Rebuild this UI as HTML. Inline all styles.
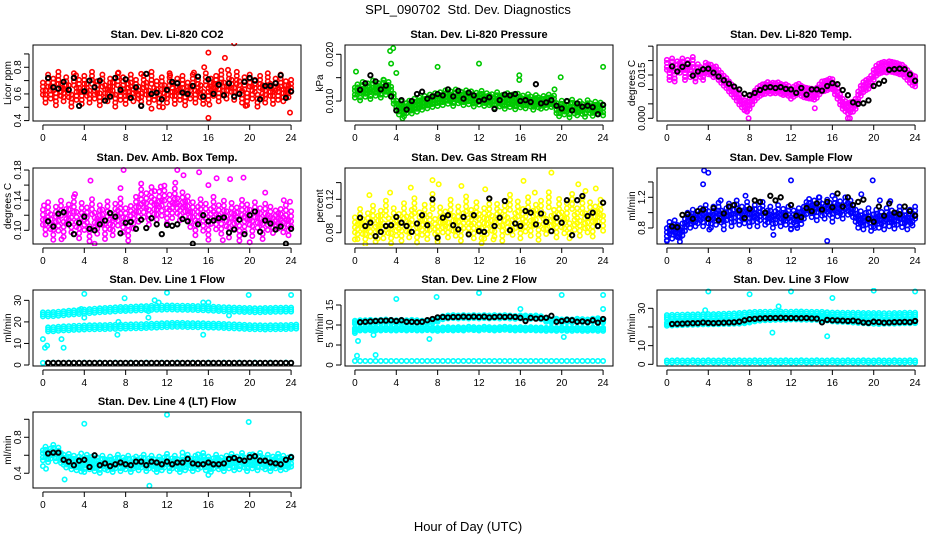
<!DOCTYPE html>
<html><head><meta charset="utf-8"><style>
html,body{margin:0;padding:0;background:#fff;}
svg{display:block;font-family:"Liberation Sans",sans-serif;}
</style></head><body>
<svg id="chart" width="936" height="540" viewBox="0 0 936 540" xmlns="http://www.w3.org/2000/svg">
<rect width="936" height="540" fill="#fff"/>
<text x="468" y="14" font-size="13" text-anchor="middle" style="white-space:pre">SPL_090702  Std. Dev. Diagnostics</text>
<text x="468" y="531" font-size="13" text-anchor="middle">Hour of Day (UTC)</text>
<g id="plots"></g>
</svg>
<script>
// ---------- data (cloud series sampled every 0.25 h; band series every 0.5 h; black series at 0.5 h from 0.5) ----------
const xTicks = [0,4,8,12,16,20,24];
const co2Cloud = [0.64,0.58,0.70,0.61,0.67,0.56,0.72,0.63,0.59,0.68,0.62,0.55,0.71,0.60,0.66,0.57,0.69,0.63,0.58,0.72,
0.61,0.65,0.56,0.70,0.62,0.59,0.67,0.64,0.55,0.71,0.60,0.68,0.57,0.63,0.70,0.59,0.66,0.61,0.56,0.69,
0.64,0.58,0.72,0.60,0.65,0.55,0.68,0.62,0.58,0.71,0.63,0.57,0.67,0.60,0.69,0.56,0.64,0.61,0.70,0.58,
0.66,0.62,0.57,0.71,0.60,0.67,0.63,0.69,0.59,0.73,0.64,0.61,0.70,0.66,0.60,0.72,0.65,0.58,0.68,0.56,
0.70,0.61,0.66,0.55,0.69,0.62,0.58,0.71,0.63,0.57,0.67,0.60,0.70,0.59,0.65,0.62,0.66];
const co2Black = [0.72,0.65,0.64,0.69,0.63,0.72,0.51,0.62,0.70,0.65,0.70,0.55,0.58,0.72,0.63,0.71,0.57,0.65,0.51,0.75,
0.60,0.61,0.56,0.63,0.69,0.68,0.61,0.60,0.66,0.73,0.58,0.71,0.60,0.67,0.59,0.68,0.58,0.60,0.69,0.72,
0.70,0.56,0.66,0.66,0.68,0.74,0.57,0.62];
const co2OutHours = [16,16,18.5,17.6,15.6,10.5,11.6,23.9,12.3,14.6,17.9,9.5,3.2,7.3,16.1,19.6];
const co2OutValues = [0.91,0.42,0.98,0.87,0.80,0.49,0.50,0.46,0.74,0.76,0.78,0.75,0.74,0.76,0.52,0.51];

const presCloud = [0.0118,0.0125,0.0112,0.0130,0.0120,0.0127,0.0115,0.0133,0.0122,0.0128,0.0118,0.0135,0.0124,0.0130,0.0120,
0.0105,0.0090,0.0082,0.0088,0.0078,0.0085,
0.0090,0.0084,0.0094,0.0088,0.0097,0.0092,0.0100,0.0095,0.0103,0.0098,0.0106,0.0100,
0.0108,0.0102,0.0112,0.0105,0.0110,0.0100,0.0114,0.0106,0.0109,0.0102,0.0112,0.0104,0.0110,0.0099,0.0107,0.0103,0.0111,0.0100,0.0106,0.0102,
0.0104,0.0096,0.0108,0.0099,0.0102,0.0094,0.0106,0.0098,0.0103,0.0093,0.0105,0.0097,0.0101,0.0095,0.0104,0.0099,0.0092,0.0102,0.0097,0.0094,0.0100,0.0096,0.0103,0.0098,0.0101,
0.0085,0.0078,0.0090,0.0082,0.0088,0.0076,0.0092,0.0084,0.0080,0.0089,0.0083,0.0077,0.0091,0.0085,0.0079,0.0088,0.0082,0.0086,0.0080];
const presBlack = [0.0124,0.0138,0.0155,0.0142,0.0125,0.0133,0.0110,0.0080,0.0102,0.0082,0.0100,0.0115,0.0120,0.0105,0.0110,0.0115,0.0112,0.0125,0.0110,0.0122,
0.0105,0.0118,0.0112,0.0100,0.0103,0.0108,0.0083,0.0102,0.0114,0.0112,0.0115,0.0100,0.0102,0.0098,0.0136,0.0095,0.0097,0.0102,0.0090,0.0084,
0.0100,0.0080,0.0095,0.0088,0.0090,0.0087,0.0072,0.0092];
const presOutHours = [3.4,3.7,3.5,4,0.1,8,12,15.9,15.9,19.9,19.3,24,4.6,2.8];
const presOutValues = [0.0207,0.0213,0.0180,0.0160,0.0163,0.0173,0.0180,0.0155,0.0145,0.0151,0.0125,0.0173,0.0063,0.0145];

const tempCloud = [0.0185,0.0150,0.0190,0.0145,0.0180,
0.0175,0.0190,0.0150,0.0185,0.0160,0.0195,0.0145,0.0170,
0.0160,0.0150,0.0175,0.0170,
0.0168,0.0160,0.0162,0.0150,0.0140,0.0130,0.0122,0.0110,0.0100,0.0090,0.0078,0.0065,0.0055,0.0045,
0.0040,0.0050,0.0065,0.0078,0.0088,0.0095,0.0100,0.0102,
0.0108,0.0103,0.0106,0.0104,0.0107,0.0102,0.0098,0.0100,0.0095,
0.0085,0.0092,0.0098,0.0102,0.0095,
0.0090,0.0088,0.0086,0.0085,0.0082,0.0088,0.0100,0.0110,
0.0112,0.0115,0.0120,0.0118,0.0100,0.0085,
0.0065,0.0050,0.0042,0.0035,0.0038,0.0040,0.0050,
0.0075,0.0095,0.0108,0.0115,0.0120,0.0130,0.0150,0.0165,
0.0172,0.0175,0.0178,0.0176,0.0180,0.0178,0.0176,0.0174,0.0170,0.0168,0.0160,
0.0150,0.0140,0.0132,0.0128];
const tempBlack = [0.0180,0.0162,0.0178,0.0188,0.0148,0.0162,0.0170,0.0172,0.0158,0.0145,0.0132,0.0120,0.0110,0.0100,0.0085,0.0080,0.0088,0.0098,0.0106,0.0108,
0.0105,0.0108,0.0102,0.0100,0.0088,0.0105,0.0082,0.0100,0.0100,0.0096,0.0112,0.0122,0.0118,0.0098,0.0080,0.0055,0.0050,0.0052,0.0062,0.0112,
0.0120,0.0130,0.0168,0.0170,0.0172,0.0170,0.0152,0.0130];
const tempOutHours = [7.7,14.3,17.5,17.7,7.9];
const tempOutValues = [0.0025,0.0035,0.0000,0.0000,0.0000];

const boxCloud = [0.118,0.105,0.128,0.112,0.098,0.122,0.110,0.130,0.102,0.119,0.125,0.108,0.135,0.115,0.100,0.127,0.111,0.121,0.096,0.132,
0.114,0.106,0.124,0.118,0.099,0.129,0.112,0.104,0.126,0.117,0.133,0.108,0.120,0.097,0.123,0.113,
0.135,0.122,0.145,0.128,0.140,0.118,0.148,0.132,0.125,0.142,0.130,0.150,0.120,0.138,0.127,0.146,0.133,0.124,0.141,0.129,0.136,
0.115,0.128,0.104,0.122,0.132,0.110,0.126,0.098,0.119,0.135,0.112,0.124,0.106,0.130,0.116,0.101,0.127,0.113,0.121,0.097,0.131,0.109,0.125,0.118,0.103,0.128,0.114,0.120,0.099,0.126,0.111,0.122,0.107,0.117,0.113,0.119,0.108,0.124,0.104,0.116];
const boxBlack = [0.112,0.105,0.122,0.124,0.108,0.095,0.110,0.118,0.102,0.100,0.108,0.113,0.123,0.118,0.096,0.110,0.111,0.102,0.114,0.103,
0.116,0.108,0.095,0.107,0.106,0.108,0.115,0.112,0.082,0.108,0.120,0.112,0.113,0.116,0.117,0.097,0.101,0.114,0.095,0.120,
0.125,0.098,0.113,0.109,0.101,0.105,0.082,0.102];
const boxOutHours = [4.6,7.5,7.8,9.5,10.8,13.0,13.6,15.1,16.8,18.1,19.4,21.5,23.3,5.0,1.8,20.0,17.4,3.1,11.4,12.8,16,23.9,0.1];
const boxOutValues = [0.166,0.156,0.180,0.162,0.152,0.180,0.173,0.177,0.169,0.168,0.170,0.150,0.140,0.082,0.088,0.084,0.087,0.148,0.158,0.163,0.160,0.138,0.133];

const rhCloud = [0.090,0.082,0.100,0.088,0.076,0.095,0.085,0.104,0.079,0.092,0.098,0.083,0.110,0.089,0.077,0.101,0.086,0.094,0.080,0.107,
0.091,0.084,0.099,0.113,0.078,0.096,0.087,0.105,0.082,0.093,0.118,0.088,0.079,0.102,0.090,0.097,0.084,0.111,0.092,0.086,
0.103,0.080,0.095,0.115,0.089,0.099,0.083,0.108,0.094,0.077,0.101,0.088,0.112,0.092,0.085,0.106,0.097,0.080,0.104,0.090,
0.117,0.087,0.095,0.109,0.083,0.100,0.091,0.114,0.086,0.098,0.105,0.081,0.110,0.094,0.088,0.120,0.092,0.099,0.084,0.112,
0.096,0.089,0.107,0.083,0.118,0.093,0.101,0.086,0.113,0.095,0.090,0.108,0.085,0.103,0.097,0.111,0.092];
const rhBlack = [0.098,0.088,0.092,0.076,0.081,0.088,0.089,0.099,0.092,0.088,0.081,0.091,0.101,0.089,0.120,0.074,0.098,0.101,0.089,0.084,
0.099,0.078,0.101,0.082,0.081,0.121,0.088,0.098,0.118,0.083,0.091,0.088,0.106,0.104,0.090,0.103,0.093,0.082,0.098,0.092,
0.119,0.077,0.119,0.124,0.100,0.104,0.088,0.116];
const rhOutHours = [0,1.4,3.4,5.4,7.5,8.1,10.3,12.6,16.3,17.4,19.0,21.6,22.3,23.3,2.2,8.0,12.5,13.4];
const rhOutValues = [0.072,0.125,0.128,0.134,0.143,0.138,0.136,0.132,0.142,0.128,0.152,0.138,0.130,0.133,0.073,0.073,0.073,0.072];

const flowCloud = [0.72,0.80,0.74,0.82,0.76,0.70,0.78,
0.84,0.92,0.88,0.96,0.90,0.94,
0.98,0.90,1.02,0.94,0.88,1.00,0.92,1.05,0.95,0.86,0.98,1.04,0.90,0.96,1.08,0.92,1.00,0.94,1.06,0.90,
0.96,1.02,0.90,0.98,1.06,0.92,0.95,1.00,0.88,0.94,1.02,0.90,0.97,0.92,1.00,0.86,0.95,0.91,0.98,0.93,
1.00,1.06,1.10,1.02,1.08,0.98,1.12,1.04,1.00,1.09,1.05,0.96,1.10,1.03,1.07,1.00,1.12,1.05,1.08,1.02,
0.96,0.88,0.94,0.86,0.92,0.98,0.84,0.90,0.96,0.88,0.93,0.86,0.98,0.90,0.95,0.87,0.92,1.00,0.89,0.94,0.86,0.96,0.91,1.00];
const flowBlack = [0.82,0.81,0.97,0.98,0.92,1.02,1.04,0.92,1.06,0.90,0.99,1.08,1.10,1.03,0.93,1.05,1.16,1.14,1.00,1.22,
1.16,1.20,0.96,1.10,0.96,0.94,1.06,1.02,1.12,1.04,1.14,1.07,1.25,1.08,1.20,1.10,1.14,1.17,0.92,0.88,
1.08,0.96,1.12,1.00,0.98,1.08,1.02,0.96];
const flowOutHours = [3.6,4,3.5,12,19.9,0,15.5,10.3,1.1,4.1,5.2,7.6,12,12.6,14.7,16,18.8,20.1,20.6,21.6,23.6];
const flowOutValues = [1.55,1.52,1.37,1.42,1.42,0.63,0.63,0.71,0.68,0.78,1.16,1.22,0.79,0.80,1.20,1.22,1.24,0.80,1.16,1.15,0.86];

const l1BandA = [23.5,23.5,23.6,23.8,24,24.2,24.4,24.6,24.8,25,25.2,25.4,25.5,25.6,25.8,26,26,26.1,26.2,26.3,26.4,26.5,26.6,26.6,26.7,26.7,26.6,26.6,26.5,26.5,26.4,26.3,26.2,26.1,26,25.9,25.8,25.7,25.6,25.5,25.5,25.4,25.4,25.5,25.5,25.6,25.6,25.7,25.7];
const l1BandB = [16.5,16.6,16.8,17,17.1,17.2,17.3,17.4,17.5,17.5,17.6,17.6,17.7,17.7,17.8,17.8,17.9,18,18,18.1,18.2,18.3,18.4,18.5,18.6,18.6,18.6,18.5,18.5,18.4,18.4,18.3,18.3,18.2,18.1,18,17.9,17.8,17.7,17.6,17.5,17.5,17.4,17.5,17.5,17.6,17.6,17.7,17.8];
const l1BandC = [1.0,1.0,1.1,1.0,1.0,1.1,1.0,1.0,1.1,1.0,1.0,1.1,1.0,1.0,1.1,1.0,1.0,1.1,1.0,1.0,1.1,1.0,1.0,1.1,1.0,1.0,1.1,1.0,1.0,1.1,1.0,1.0,1.1,1.0,1.0,1.1,1.0,1.0,1.1,1.0,1.0,1.1,1.0,1.0,1.1,1.0,1.0,1.1,1.0];
const l1Black = [1.0,1.0,1.0,1.0,1.0,1.0,1.0,1.0,1.0,1.0,1.0,1.0,1.0,1.0,1.0,1.0,1.0,1.0,1.0,1.0,1.0,1.0,1.0,1.0,1.0,1.0,1.0,1.0,1.0,1.0,1.0,1.0,1.0,1.0,1.0,1.0,1.0,1.0,1.0,1.0,1.0,1.0,1.0,1.0,1.0,1.0,1.0,1.0];
const l1OutHours = [0,0.2,0.4,1.8,2,4,4,3.7,7.9,7.3,7.2,10.2,10.2,10.8,11.2,12,15.5,15.5,16,18,19.9,24];
const l1OutValues = [12,8,9,12,8,33,22,26,31,20,14,22,25,30,29,33.5,29,14,29,23,32.5,32.5];

const l2BandA = [10.7,10.8,10.8,10.9,10.8,10.9,11.0,10.9,10.8,10.9,10.8,10.9,10.8,10.7,10.8,10.9,11.2,11.8,12.0,12.1,12.0,12.1,12.0,12.1,12.0,12.1,12.0,12.1,12.0,12.1,12.0,11.9,12.0,12.0,11.9,12.0,11.8,11.2,11.0,11.2,11.0,11.1,11.0,11.2,11.1,11.0,11.2,11.3,11.0];
const l2BandB = [8.8,9.0,9.0,9.1,9.0,9.0,9.1,9.0,9.0,9.1,9.0,9.1,9.0,9.0,9.1,9.0,8.9,9.0,9.1,9.0,9.1,9.0,9.2,9.1,9.0,9.2,9.1,9.0,9.1,9.2,9.1,9.0,9.1,9.0,9.1,9.0,9.0,8.9,9.0,8.9,9.0,8.9,8.9,9.0,8.9,8.9,9.0,8.9,8.9];
const l2BandC = [1.0,1.0,1.0,1.0,1.0,1.0,1.0,1.0,1.0,1.0,1.0,1.0,1.0,1.0,1.0,1.0,1.0,1.0,1.0,1.0,1.0,1.0,1.0,1.0,1.0,1.0,1.0,1.0,1.0,1.0,1.0,1.0,1.0,1.0,1.0,1.0,1.0,1.0,1.0,1.0,1.0,1.0,1.0,1.0,1.0,1.0,1.0,1.0,1.0];
const l2Black = [10.7,10.8,10.9,11.0,11.1,11.1,11.2,11.0,11.2,10.8,10.8,10.7,10.8,11.2,11.5,11.9,12.0,11.9,12.0,12.0,12.1,12.0,12.1,12.0,12.1,11.9,12.0,12.1,12.0,12.1,12.0,11.8,11.0,11.8,11.6,11.7,11.8,12.3,10.8,11.0,11.3,11.2,10.8,10.9,10.7,11.2,10.6,11.5];
const l2OutHours = [0,0.3,1.8,4,7.9,12,7.2,20,20.2,24,24,16,0.2,2];
const l2OutValues = [8,6,7.5,16.5,17,18,6.5,17.5,7,17.5,14,14,2.3,2.5];

const l3BandA = [25.3,25.4,25.5,25.5,25.6,25.6,25.7,25.7,25.8,25.8,25.9,26.0,26.1,26.2,26.4,26.6,26.8,27.0,27.0,27.1,27.1,27.2,27.2,27.1,27.1,27.2,27.2,27.1,27.0,27.0,27.0,26.8,26.6,26.6,26.5,26.5,26.5,26.5,26.4,26.4,26.4,26.4,26.3,26.3,26.4,26.4,26.5,26.5,26.5];
const l3BandB = [21.5,21.6,21.7,21.8,21.9,22.0,22.1,22.2,22.2,22.3,22.3,22.4,22.4,22.5,22.6,22.8,23.2,23.8,24.2,24.4,24.5,24.6,24.7,24.7,24.8,24.8,24.7,24.7,24.6,24.6,24.5,24.2,23.8,23.6,23.5,23.4,23.2,23.0,22.8,22.6,22.5,22.4,22.5,22.6,22.6,22.7,22.8,22.8,22.9];
const l3BandC = [1.5,1.5,1.6,1.5,1.5,1.6,1.5,1.5,1.6,1.5,1.5,1.6,1.5,1.5,1.6,1.5,1.5,1.6,1.5,1.5,1.6,1.5,1.5,1.6,1.5,1.5,1.6,1.5,1.5,1.6,1.5,1.5,1.6,1.5,1.5,1.6,1.5,1.5,1.6,1.5,1.5,1.6,1.5,1.5,1.6,1.5,1.5,1.6,1.5];
const l3Black = [21.6,21.7,21.8,21.9,22.0,22.1,22.4,22.2,22.1,22.2,22.3,22.4,22.5,22.8,23.6,24.2,24.4,24.6,24.7,24.8,24.8,24.9,24.8,24.8,24.7,24.7,24.8,24.6,24.5,22.5,23.8,23.6,23.5,23.4,23.2,23.4,23.0,22.4,22.2,22.8,22.6,22.3,22.4,22.6,22.6,22.7,22.6,23.2];
const l3OutHours = [4,8,12,16,20,24,15.5,10.2,10.8,3.7];
const l3OutValues = [39,37.5,39,35.5,39.5,39,15,17,31,29];

const l4Cloud = [0.60,0.64,0.58,0.62,0.66,0.59,0.63,0.57,0.55,0.52,0.56,0.50,0.54,0.49,0.53,0.51,0.47,0.55,0.50,0.53,0.48,0.52,0.46,0.54,0.50,0.49,0.53,0.47,0.51,0.55,0.48,0.52,0.50,0.54,0.47,0.51,0.53,0.49,0.52,0.55,
0.48,0.51,0.54,0.50,0.47,0.53,0.49,0.52,0.56,0.48,0.51,0.54,0.50,0.47,0.53,0.49,0.55,0.51,0.48,0.54,0.50,0.52,0.57,0.49,0.53,0.47,0.51,0.55,0.50,0.52,0.48,0.54,0.51,0.56,0.49,0.53,0.50,0.57,0.52,0.48,
0.55,0.51,0.54,0.49,0.57,0.52,0.50,0.55,0.48,0.53,0.51,0.56,0.49,0.54,0.50,0.52,0.53];
const l4Black = [0.62,0.63,0.63,0.55,0.53,0.49,0.54,0.55,0.47,0.60,0.49,0.51,0.48,0.50,0.52,0.50,0.49,0.53,0.53,0.49,
0.53,0.52,0.50,0.53,0.50,0.52,0.52,0.56,0.51,0.50,0.50,0.52,0.50,0.50,0.51,0.56,0.57,0.55,0.54,0.58,0.59,0.54,0.54,0.52,0.51,0.50,0.55,0.58];
const l4OutHours = [12,19.9,4,10.3,2.1,0,3.7,13.5,3.7,16,20.3,15,0.3];
const l4OutValues = [1.05,0.97,0.95,0.26,0.33,0.48,0.62,0.63,0.42,0.38,0.61,0.61,0.45];

// ---------- rendering ----------
const NS = 'http://www.w3.org/2000/svg';
const root = document.getElementById('plots');
function mk(tag, attrs, parent){ const e=document.createElementNS(NS,tag); for(const k in attrs) e.setAttribute(k,attrs[k]); (parent||root).appendChild(e); return e; }

const panels = [
 {name:'co2',title:'Stan. Dev. Li-820 CO2',ylab:'Licor ppm',col:0,row:0,ylo:0.397,yhi:0.967,ticks:[0.4,0.5,0.6,0.7,0.8,0.9],labels:['0.4','','0.6','','0.8',''],color:'#ff0000',
  series:[{v:co2Cloud,step:0.25,start:0,off:[-6,-2,2,6]}],black:co2Black,oh:co2OutHours,ov:co2OutValues},
 {name:'pressure',title:'Stan. Dev. Li-820 Pressure',ylab:'kPa',col:1,row:0,ylo:0.00573,yhi:0.02199,ticks:[0.010,0.015,0.020],labels:['0.010','','0.020'],color:'#00c800',
  series:[{v:presCloud,step:0.25,start:0,off:[-5,-2,2,5]}],black:presBlack,oh:presOutHours,ov:presOutValues},
 {name:'temp',title:'Stan. Dev. Li-820 Temp.',ylab:'degrees C',col:2,row:0,ylo:-0.00094,yhi:0.0254,ticks:[0,0.005,0.010,0.015,0.020,0.025],labels:['0.000','','','0.015','',''],color:'#ff00ff',
  series:[{v:tempCloud,step:0.25,start:0,off:[-5,-2,2,5]}],black:tempBlack,oh:tempOutHours,ov:tempOutValues},
 {name:'box-temp',title:'Stan. Dev. Amb. Box Temp.',ylab:'degrees C',col:0,row:1,ylo:0.0818,yhi:0.1827,ticks:[0.10,0.12,0.14,0.16,0.18],labels:['0.10','','0.14','','0.18'],color:'#ff00ff',
  series:[{v:boxCloud,step:0.25,start:0,off:[-7,-2,3,8]}],black:boxBlack,oh:boxOutHours,ov:boxOutValues},
 {name:'rh',title:'Stan. Dev. Gas Stream RH',ylab:'percent',col:1,row:1,ylo:0.0665,yhi:0.1575,ticks:[0.08,0.10,0.12,0.14],labels:['0.08','','0.12',''],color:'#ffff00',
  series:[{v:rhCloud,step:0.25,start:0,off:[-7,-2,3,8]}],black:rhBlack,oh:rhOutHours,ov:rhOutValues},
 {name:'sample-flow',title:'Stan. Dev. Sample Flow',ylab:'ml/min',col:2,row:1,ylo:0.591,yhi:1.582,ticks:[0.8,1.0,1.2,1.4],labels:['0.8','','1.2',''],color:'#0000ff',
  series:[{v:flowCloud,step:0.25,start:0,off:[-6,-2,2,6]}],black:flowBlack,oh:flowOutHours,ov:flowOutValues},
 {name:'line1-flow',title:'Stan. Dev. Line 1 Flow',ylab:'ml/min',col:0,row:2,ylo:-0.46,yhi:34.8,ticks:[0,10,20,30],labels:['0','10','20','30'],color:'#00ffff',
  series:[{v:l1BandA,step:0.5,start:0,off:[-2,0,2]},{v:l1BandB,step:0.5,start:0.5,off:[-2,0,2]},{v:l1BandC,step:0.5,start:0,off:[0]}],black:l1Black,oh:l1OutHours,ov:l1OutValues},
 {name:'line2-flow',title:'Stan. Dev. Line 2 Flow',ylab:'ml/min',col:1,row:2,ylo:-0.25,yhi:18.75,ticks:[0,5,10,15],labels:['0','5','10','15'],color:'#00ffff',
  series:[{v:l2BandA,step:0.5,start:0,off:[-1.5,0,1.5]},{v:l2BandB,step:0.5,start:0,off:[-1.5,0,1.5]},{v:l2BandC,step:0.5,start:0,off:[0]}],black:l2Black,oh:l2OutHours,ov:l2OutValues},
 {name:'line3-flow',title:'Stan. Dev. Line 3 Flow',ylab:'ml/min',col:2,row:2,ylo:-0.9,yhi:39.8,ticks:[0,10,20,30],labels:['0','10','','30'],color:'#00ffff',
  series:[{v:l3BandA,step:0.5,start:0,off:[-2,0,2]},{v:l3BandB,step:0.5,start:0,off:[-1.5,0,1.5]},{v:l3BandC,step:0.5,start:0,off:[-1,1]}],black:l3Black,oh:l3OutHours,ov:l3OutValues},
 {name:'line4-flow',title:'Stan. Dev. Line 4 (LT) Flow',ylab:'ml/min',col:0,row:3,ylo:0.236,yhi:1.081,ticks:[0.4,0.6,0.8,1.0],labels:['0.4','','0.8',''],color:'#00ffff',
  series:[{v:l4Cloud,step:0.25,start:0,off:[-5,-2,2,5]}],black:l4Black,oh:l4OutHours,ov:l4OutValues}
];

const colLeft=[33,345,657], rowTop=[45,168,290,412], boxW=268, boxH=76;
const X0=-0.96, X1=24.96;

panels.forEach(p=>{
  const L=colLeft[p.col], T=rowTop[p.row], B=T+boxH, R=L+boxW;
  const xs=h=>L+(h-X0)/(X1-X0)*boxW;
  const ys=v=>B-(v-p.ylo)/(p.yhi-p.ylo)*boxH;
  const g=mk('g',{});
  
  
  const clipId='clip-'+p.name;
  const cp=mk('clipPath',{id:clipId},g); mk('rect',{x:L,y:T-2,width:boxW,height:boxH+4},cp);
  const t=mk('text',{x:(L+R)/2,y:T-7,'font-size':11,'font-weight':'bold','text-anchor':'middle'},g);
  t.textContent=p.title;
  
  
  const yl=mk('text',{x:0,y:0,'font-size':10,'text-anchor':'middle',transform:`translate(${L-22},${(T+B)/2}) rotate(-90)`},g);
  yl.textContent=p.ylab;
  
  
  const marks=mk('g',{'clip-path':`url(#${clipId})`,fill:'none','stroke-width':1.6},g);
  
  
  p.series.forEach(s=>{
    s.v.forEach((v,i)=>{
      const cx=xs(s.start+i*s.step);
      s.off.forEach(o=>{
        const c=mk('circle',{cx:cx.toFixed(1),cy:(ys(v)+o).toFixed(1),r:2.2,stroke:p.color},marks);
        
        
      });
    });
  });
  p.oh.forEach((h,i)=>{
    const c=mk('circle',{cx:xs(h).toFixed(1),cy:ys(p.ov[i]).toFixed(1),r:2.2,stroke:p.color},marks);
    
    
  });
  p.black.forEach((v,i)=>{
    const c=mk('circle',{cx:xs(0.5+i*0.5).toFixed(1),cy:ys(v).toFixed(1),r:2.2,stroke:'#000','stroke-width':1.9},marks);
    
    
  });
  const box=mk('rect',{x:L,y:T,width:boxW,height:boxH,fill:'none',stroke:'#000','stroke-width':1},g);
  
  
  const ax=mk('g',{stroke:'#000','stroke-width':1},g);
  
  
  mk('line',{x1:xs(0),x2:xs(24),y1:B+4,y2:B+4},ax);
  xTicks.forEach(h=>{
    mk('line',{x1:xs(h),x2:xs(h),y1:B+4,y2:B+9},ax);
    const tl=mk('text',{x:xs(h),y:B+20,'font-size':10,'text-anchor':'middle',stroke:'none',fill:'#000'},ax);
    tl.textContent=h;
    
    
  });
  const ay=mk('g',{stroke:'#000','stroke-width':1},g);
  
  
  mk('line',{x1:L-4,x2:L-4,y1:ys(p.ticks[0]),y2:ys(p.ticks[p.ticks.length-1])},ay);
  p.ticks.forEach((v,i)=>{
    const y=ys(v);
    mk('line',{x1:L-9,x2:L-4,y1:y,y2:y},ay);
    if(p.labels[i]){
      const tl=mk('text',{x:0,y:0,'font-size':10,'text-anchor':'middle',stroke:'none',fill:'#000',transform:`translate(${L-12},${y}) rotate(-90)`},ay);
      tl.textContent=p.labels[i];
      
      
    }
  });
});
</script>
</body></html>
